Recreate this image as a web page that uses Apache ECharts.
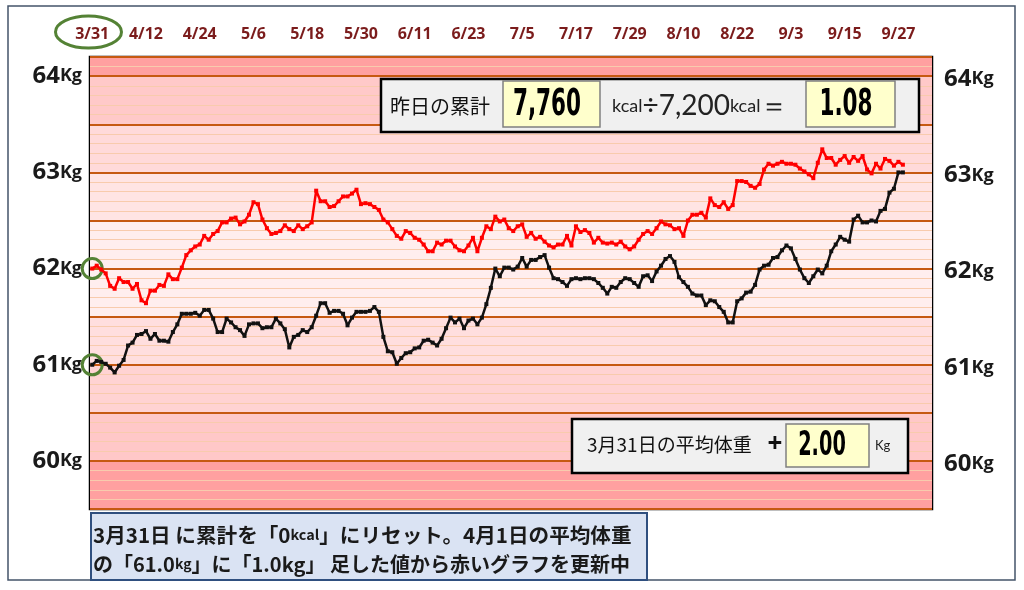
<!DOCTYPE html>
<html><head><meta charset="utf-8">
<script src="https://cdn.jsdelivr.net/npm/echarts@6/dist/echarts.min.js"></script>
<style>html,body{margin:0;padding:0;background:#fff}#c{width:1024px;height:590px}</style>
</head><body><div id="c"></div>
<script>
// ---- data ----
const startMonth = 3, startDay = 31, dayCount = 188, labelEvery = 12;
const categories = [];
for (let i = 0; i < dayCount; i++) {
  const d = new Date(2023, startMonth - 1, startDay + i);
  categories.push((d.getMonth() + 1) + '/' + d.getDate());
}
const yTickLabels = [60, 61, 62, 63, 64];

const redValues = [
62.00,62.03,61.99,61.95,61.82,61.79,61.90,61.86,61.86,61.79,
61.84,61.67,61.64,61.77,61.77,61.83,61.82,61.94,61.89,61.89,
62.01,62.14,62.19,62.23,62.25,62.34,62.30,62.36,62.39,62.48,
62.48,62.52,62.53,62.46,62.49,62.56,62.69,62.67,62.51,62.42,
62.36,62.37,62.39,62.45,62.41,62.39,62.45,62.41,62.44,62.48,
62.81,62.70,62.70,62.64,62.65,62.70,62.75,62.75,62.78,62.82,
62.67,62.68,62.67,62.64,62.61,62.51,62.48,62.41,62.34,62.31,
62.39,62.37,62.32,62.30,62.25,62.18,62.18,62.27,62.25,62.29,
62.29,62.23,62.19,62.18,62.24,62.32,62.18,62.32,62.44,62.41,
62.54,62.49,62.51,62.42,62.39,62.44,62.46,62.33,62.37,62.31,
62.33,62.28,62.24,62.22,62.25,62.25,62.34,62.24,62.44,62.38,
62.40,62.37,62.27,62.32,62.27,62.26,62.27,62.25,62.28,62.23,
62.20,62.23,62.30,62.36,62.39,62.36,62.42,62.49,62.46,62.45,
62.41,62.42,62.34,62.50,62.56,62.56,62.58,62.53,62.73,62.66,
62.64,62.69,62.62,62.66,62.91,62.91,62.90,62.86,62.84,62.88,
63.03,63.09,63.07,63.09,63.11,63.09,63.09,63.08,63.04,63.01,
62.98,62.94,63.10,63.24,63.15,63.15,63.08,63.13,63.17,63.10,
63.16,63.12,63.17,63.03,62.99,63.09,63.04,63.14,63.12,63.07,
63.11,63.08];

const blackValues = [
61.00,61.04,61.03,61.01,60.97,60.92,60.99,61.05,61.20,61.23,
61.31,61.32,61.35,61.27,61.32,61.25,61.25,61.24,61.34,61.42,
61.53,61.53,61.53,61.54,61.51,61.57,61.57,61.48,61.34,61.34,
61.48,61.44,61.39,61.36,61.30,61.42,61.43,61.43,61.38,61.39,
61.39,61.48,61.43,61.37,61.18,61.29,61.31,61.36,61.34,61.39,
61.51,61.64,61.64,61.54,61.56,61.56,61.53,61.41,61.49,61.55,
61.55,61.55,61.56,61.60,61.55,61.29,61.14,61.13,61.01,61.07,
61.12,61.13,61.17,61.18,61.25,61.26,61.23,61.20,61.27,61.38,
61.49,61.44,61.48,61.38,61.46,61.48,61.42,61.49,61.63,61.80,
62.00,61.92,62.01,62.01,61.99,62.02,62.11,62.02,62.09,62.09,
62.12,62.14,62.01,61.90,61.89,61.86,61.82,61.89,61.90,61.89,
61.90,61.90,61.89,61.85,61.80,61.74,61.81,61.80,61.86,61.90,
61.89,61.85,61.81,61.92,61.93,61.87,61.97,62.03,62.10,62.13,
62.07,61.91,61.86,61.81,61.74,61.72,61.72,61.62,61.67,61.66,
61.60,61.55,61.44,61.44,61.66,61.69,61.75,61.76,61.83,61.99,
62.03,62.04,62.11,62.12,62.19,62.24,62.21,62.10,61.99,61.90,
61.85,61.92,61.99,61.95,62.03,62.18,62.25,62.33,62.30,62.28,
62.51,62.55,62.48,62.48,62.50,62.49,62.60,62.62,62.79,62.83,
63.00,63.00];

const yesterdayKcal = '7,760';
const baseKcal = '7,200';
const ratioText = '1.08';
const offsetKg = '2.00';

// ---- styles ----
const bandColors = ['#ffa0a0','#ffc8c8','#ffd3d3','#ffdede','#ffeeee','#ffeeee','#ffe4e4','#ffdada','#ffc9c9','#ffa0a0'];
const labelRich = {
  n: {fontSize: 24, fontWeight: 'bold', fontFamily: 'Open Sans', color: '#1a1a1a'},
  u: {fontSize: 18, fontWeight: 'bold', fontFamily: 'Open Sans', color: '#1a1a1a'}
};
const fmtY = v => yTickLabels.includes(Math.round(v * 100) / 100) ? '{n|' + v + '}{u|Kg}' : '';
const green = '#548235';
const jp = 'Noto Sans CJK JP';
const narrow = 'Liberation Sans Narrow, DejaVu Sans Condensed, sans-serif';

const chart = echarts.init(document.getElementById('c'), null, {renderer: 'canvas'});
chart.setOption({
  animation: false,
  backgroundColor: '#fff',
  grid: {left: 90, right: 92, top: 57, bottom: 81, show: true, borderColor: '#000', borderWidth: 2.5, containLabel: false},
  xAxis: {
    type: 'category', data: categories, position: 'top', boundaryGap: true,
    axisLine: {show: false}, axisTick: {show: false}, splitLine: {show: false},
    axisLabel: {interval: labelEvery - 1, color: '#7b1c1c', fontWeight: 'bold', fontSize: 16, fontFamily: 'Open Sans', margin: 15}
  },
  yAxis: [{
    type: 'value', min: 59.5, max: 64.2, interval: 0.5, position: 'left',
    axisLine: {show: false}, axisTick: {show: false},
    axisLabel: {formatter: fmtY, margin: 8, rich: labelRich},
    splitLine: {show: true, lineStyle: {color: '#c65911', width: 2}},
    minorTick: {show: false, splitNumber: 5},
    minorSplitLine: {show: true, lineStyle: {color: '#f8cbad', width: 1}},
    splitArea: {show: true, areaStyle: {color: bandColors}}
  }, {
    type: 'value', min: 59.5, max: 64.2, interval: 0.5, position: 'right',
    axisLine: {show: false}, axisTick: {show: false},
    axisLabel: {formatter: fmtY, margin: 12, padding: [6, 0, 0, 0], rich: labelRich},
    splitLine: {show: false}, splitArea: {show: false}
  }],
  series: [{
    name: 'red', type: 'line', data: redValues, yAxisIndex: 0,
    color: '#ff0000', lineStyle: {width: 2.5, color: '#ff0000'},
    symbol: 'rect', symbolSize: 4, showAllSymbol: true, z: 5,
    itemStyle: {color: '#ff0000'},
    markPoint: {symbol: 'circle', symbolSize: 20, label: {show: false},
      itemStyle: {color: 'rgba(0,0,0,0)', borderColor: green, borderWidth: 3},
      data: [{coord: [0, redValues[0]]}]}
  }, {
    name: 'black', type: 'line', data: blackValues, yAxisIndex: 0,
    color: '#111', lineStyle: {width: 2.5, color: '#111'},
    symbol: 'rect', symbolSize: 4, showAllSymbol: true, z: 5,
    itemStyle: {color: '#111'},
    markPoint: {symbol: 'circle', symbolSize: 20, label: {show: false},
      itemStyle: {color: 'rgba(0,0,0,0)', borderColor: green, borderWidth: 3},
      data: [{coord: [0, blackValues[0]]}]}
  }],
  graphic: [
    {type: 'rect', z: 100, silent: true, shape: {x: 8, y: 6, width: 1007, height: 574}, style: {fill: 'none', stroke: '#44546a', lineWidth: 1.5}},
    {type: 'ellipse', z: 100, silent: true, shape: {cx: 88.5, cy: 32, rx: 33, ry: 16}, style: {fill: 'none', stroke: green, lineWidth: 3}},
    // info box
    {type: 'rect', z: 100, shape: {x: 381, y: 79, width: 538, height: 53}, style: {fill: '#f0f0f0', stroke: '#000', lineWidth: 2.5}},
    {type: 'text', z: 101, x: 390, y: 106, style: {text: '昨日の累計', fontSize: 20, fontFamily: jp, fill: '#111', align: 'left', verticalAlign: 'middle'}},
    {type: 'rect', z: 101, shape: {x: 503, y: 81, width: 97, height: 46}, style: {fill: '#ffffcc', stroke: '#808080', lineWidth: 1.5}},
    {type: 'text', z: 102, x: 547, y: 105, scaleX: 0.63, style: {text: yesterdayKcal, fontSize: 38, fontFamily: narrow, fontWeight: 'bold', fill: '#000', align: 'center', verticalAlign: 'middle'}},
    {type: 'text', z: 101, x: 612, y: 106, style: {text: '{s|kcal}{m|÷' + baseKcal + '}{s|kcal}{m|＝}', align: 'left', verticalAlign: 'middle',
      rich: {s: {fontSize: 18, fontFamily: 'Lato', fill: '#222'}, m: {fontSize: 28, fontFamily: 'Lato', fill: '#222'}}}},
    {type: 'rect', z: 101, shape: {x: 806, y: 81, width: 89, height: 46}, style: {fill: '#ffffcc', stroke: '#808080', lineWidth: 1.5}},
    {type: 'text', z: 102, x: 846, y: 105, scaleX: 0.63, style: {text: ratioText, fontSize: 38, fontFamily: narrow, fontWeight: 'bold', fill: '#000', align: 'center', verticalAlign: 'middle'}},
    // baseline box
    {type: 'rect', z: 100, shape: {x: 572, y: 419, width: 336, height: 54}, style: {fill: '#f0f0f0', stroke: '#000', lineWidth: 2.5}},
    {type: 'text', z: 101, x: 587, y: 445, style: {text: '3月31日の平均体重', fontSize: 19, fontFamily: jp, fill: '#111', align: 'left', verticalAlign: 'middle'}},
    {type: 'text', z: 101, x: 775, y: 445, style: {text: '+', fontSize: 26, fontWeight: 'bold', fontFamily: 'Open Sans', fill: '#111', align: 'center', verticalAlign: 'middle'}},
    {type: 'rect', z: 101, shape: {x: 786, y: 424, width: 83, height: 43}, style: {fill: '#ffffcc', stroke: '#808080', lineWidth: 1.5}},
    {type: 'text', z: 102, x: 822, y: 446, scaleX: 0.65, style: {text: offsetKg, fontSize: 33, fontFamily: narrow, fontWeight: 'bold', fill: '#000', align: 'center', verticalAlign: 'middle'}},
    {type: 'text', z: 101, x: 875, y: 446, style: {text: 'Kg', fontSize: 13, fontFamily: 'Lato', fill: '#222', align: 'left', verticalAlign: 'middle'}},
    // note box
    {type: 'rect', z: 100, shape: {x: 91, y: 513, width: 556, height: 67}, style: {fill: '#dae3f3', stroke: '#2f4f7f', lineWidth: 2}},
    {type: 'text', z: 101, x: 93, y: 535, scaleX: 1.03, style: {text: '{b|3月31日 に累計を「0}{s|kcal}{b|」にリセット。4月1日の平均体重}', align: 'left', verticalAlign: 'middle',
      rich: {b: {fontSize: 20, fontWeight: 'bold', fontFamily: jp, fill: '#1a1a1a'}, s: {fontSize: 14, fontWeight: 'bold', fontFamily: jp, fill: '#1a1a1a'}}}},
    {type: 'text', z: 101, x: 93, y: 564, style: {text: '{b|の「61.0}{s|kg}{b|」に「1.0kg」 足した値から赤いグラフを更新中}', align: 'left', verticalAlign: 'middle',
      rich: {b: {fontSize: 20, fontWeight: 'bold', fontFamily: jp, fill: '#1a1a1a'}, s: {fontSize: 14, fontWeight: 'bold', fontFamily: jp, fill: '#1a1a1a'}}}}
  ]
});
</script>
</body></html>
